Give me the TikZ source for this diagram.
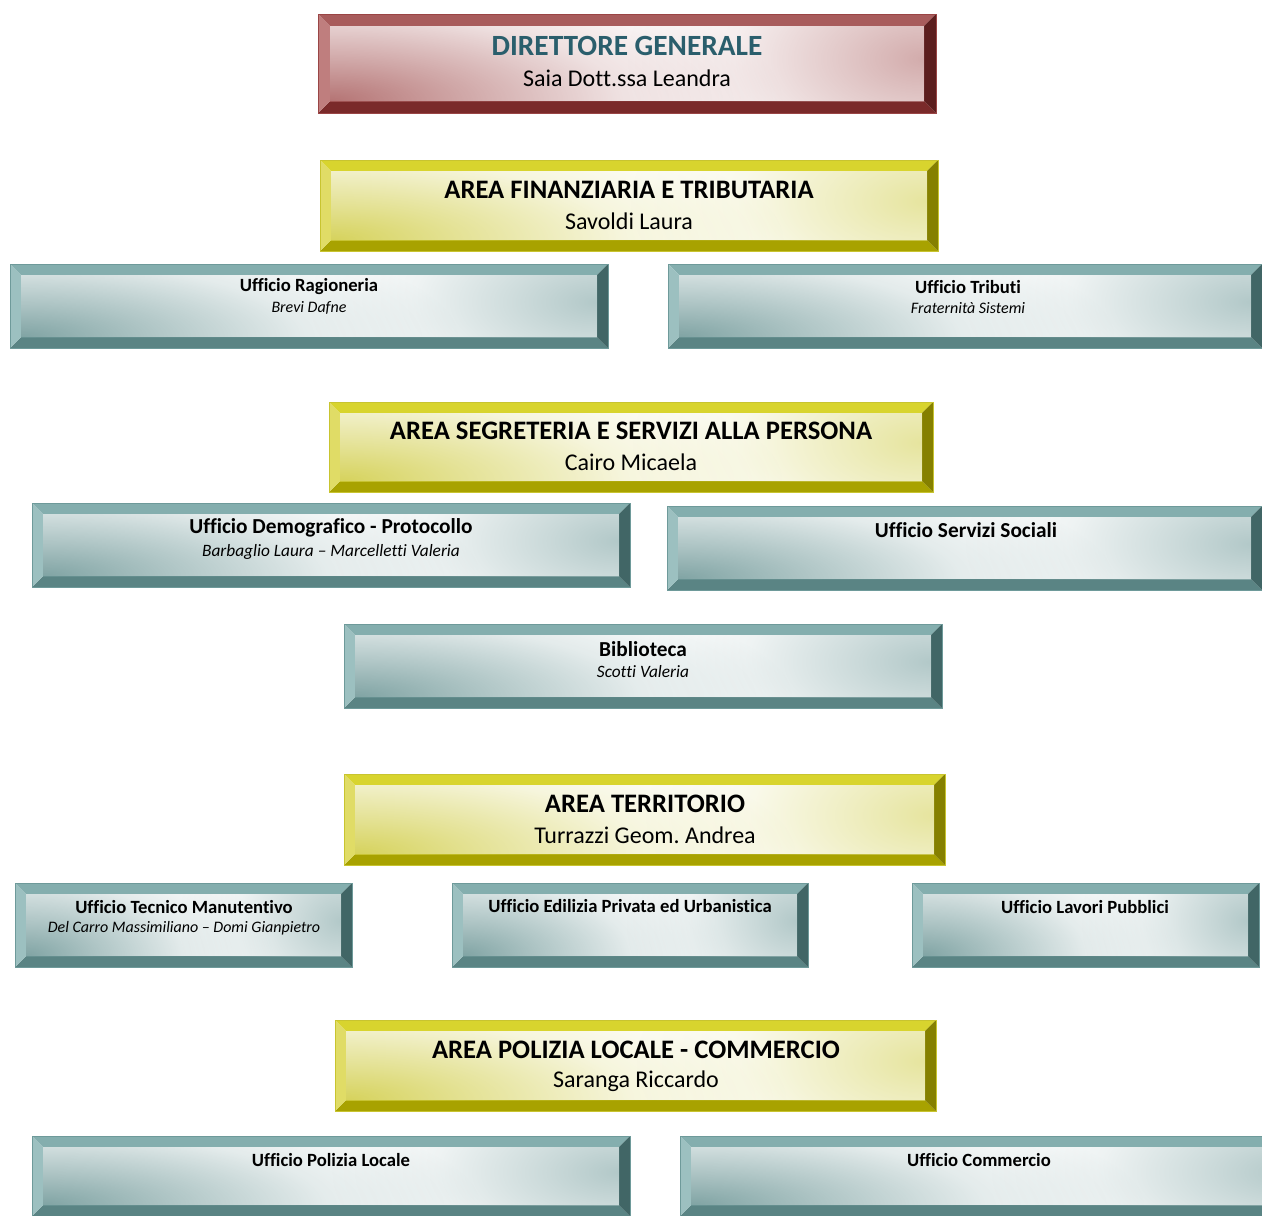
\documentclass[tikz,border=0pt]{standalone}
\usepackage{fontspec}
\setmainfont{Carlito}[Ligatures={NoCommon,NoContextual}]
\usetikzlibrary{calc,fadings}
\frenchspacing

% bevel palettes
\definecolor{redtop}{HTML}{A85C5C}
\definecolor{redleft}{HTML}{BF7E7E}
\definecolor{redright}{HTML}{5C1E1E}
\definecolor{redbot}{HTML}{7A2A2A}
\definecolor{rededge}{HTML}{9A4545}
\definecolor{redsheen}{HTML}{A85C5C}

\definecolor{yeltop}{HTML}{D8D42E}
\definecolor{yelleft}{HTML}{E0DC66}
\definecolor{yelright}{HTML}{858000}
\definecolor{yelbot}{HTML}{A8A200}
\definecolor{yeledge}{HTML}{C8C430}
\definecolor{yelsheen}{HTML}{CFCB40}

\definecolor{teltop}{HTML}{84AEAE}
\definecolor{telleft}{HTML}{9CC0C0}
\definecolor{telright}{HTML}{416666}
\definecolor{telbot}{HTML}{5A8484}
\definecolor{teledge}{HTML}{6E9A9A}
\definecolor{telsheen}{HTML}{6A9494}

\definecolor{headblue}{HTML}{2A5E6C}

% soft round spot (steep fall-off) for the shaded corners of the plate faces
\pgfdeclareradialshading{spotmask}{\pgfpointorigin}{color(0bp)=(white!85!black); color(7bp)=(white!55!black); color(16bp)=(white!18!black); color(25bp)=(black); color(50bp)=(black)}
\pgfdeclarefading{softspot}{\pgfuseshading{spotmask}}

% framed bevel plate: palette, x1, y1, x2, y2, bevel width
\newcommand\bevelplate[6]{%
  \fill[#1top] (#2,#3) -- (#4,#3) -- ({#4-#6},{#3+#6}) -- ({#2+#6},{#3+#6}) -- cycle;
  \fill[#1bot] (#2,#5) -- (#4,#5) -- ({#4-#6},{#5-#6}) -- ({#2+#6},{#5-#6}) -- cycle;
  \fill[#1left] (#2,#3) -- ({#2+#6},{#3+#6}) -- ({#2+#6},{#5-#6}) -- (#2,#5) -- cycle;
  \fill[#1right] (#4,#3) -- ({#4-#6},{#3+#6}) -- ({#4-#6},{#5-#6}) -- (#4,#5) -- cycle;
  \begin{scope}
    \clip ({#2+#6},{#3+#6}) rectangle ({#4-#6},{#5-#6});
    \fill[white] ({#2+#6},{#3+#6}) rectangle ({#4-#6},{#5-#6});
    % lower left shadow
    \fill[#1sheen, path fading=softspot]
      ({#2+#6},{#5-#6}) ellipse [x radius={(#4-#2)*0.55pt}, y radius={(#5-#3)*1.05pt}];
    % right hand shadow
    \fill[#1sheen!60!white, path fading=softspot]
      ({#4-#6},{#3+0.45*(#5-#3)}) ellipse [x radius={(#4-#2)*0.36pt}, y radius={(#5-#3)*1.2pt}];
  \end{scope}
  \draw[#1edge, line width=0.6pt] (#2,#3) rectangle (#4,#5);
}

\tikzset{
  headline/.style={font=\fontsize{22}{24}\selectfont\bfseries, text=headblue, inner sep=0pt},
  arealine/.style={font=\fontsize{20}{22}\selectfont\bfseries, inner sep=0pt},
  headname/.style={font=\fontsize{18}{20}\selectfont, inner sep=0pt},
  officeline/.style={font=\fontsize{14}{16}\selectfont\bfseries, inner sep=0pt},
  officename/.style={font=\fontsize{12}{14}\selectfont\itshape, inner sep=0pt},
  bigoffice/.style={font=\fontsize{16}{18}\selectfont\bfseries, inner sep=0pt},
  bigname/.style={font=\fontsize{13}{15}\selectfont\itshape, inner sep=0pt},
}

\begin{document}
\begin{tikzpicture}[x=0.75pt, y=-0.75pt]
  \useasboundingbox (0,0) rectangle (1262,1215);
  \clip (0,0) rectangle (1262,1215);

  % director
  \bevelplate{red}{318}{14}{936}{113}{12}
  \node[headline] (dg) at (627,46) {DIRETTORE GENERALE};
  \node[headname] (dgname) at (627,78) {Saia Dott.ssa Leandra};

  % financial area
  \bevelplate{yel}{320}{160}{938}{251}{11}
  \node[arealine] (fin) at (629,190) {AREA FINANZIARIA E TRIBUTARIA};
  \node[headname] (finname) at (629,221) {Savoldi Laura};

  \bevelplate{tel}{10}{264}{608}{348}{11}
  \node[officeline] (rag) at (309,287) {Ufficio Ragioneria};
  \node[officename] (ragname) at (309,308) {Brevi Dafne};

  \bevelplate{tel}{668}{264}{1262}{348}{11}
  \node[officeline] (trib) at (968,287) {Ufficio Tributi};
  \node[officename] (tribname) at (968,308) {Fraternità Sistemi};

  % secretariat area
  \bevelplate{yel}{329}{402}{933}{492}{11}
  \node[arealine] (seg) at (631,431) {AREA SEGRETERIA E SERVIZI ALLA PERSONA};
  \node[headname] (segname) at (631,462) {Cairo Micaela};

  \bevelplate{tel}{32}{503}{630}{587}{11}
  \node[bigoffice] (demo) at (331,528) {Ufficio Demografico - Protocollo};
  \node[bigname] (demoname) at (331,552) {Barbaglio Laura – Marcelletti Valeria};

  \bevelplate{tel}{667}{506}{1262}{590}{11}
  \node[bigoffice] (soc) at (966,530) {Ufficio Servizi Sociali};

  \bevelplate{tel}{344}{624}{942}{708}{11}
  \node[bigoffice] (bib) at (643,649) {Biblioteca};
  \node[bigname] (bibname) at (643,672) {Scotti Valeria};

  % territory area
  \bevelplate{yel}{344}{774}{945}{865}{11}
  \node[arealine] (terr) at (645,804) {AREA TERRITORIO};
  \node[headname] (terrname) at (645,835) {Turrazzi Geom. Andrea};

  \bevelplate{tel}{15}{883}{352}{967}{11}
  \node[officeline] (tec) at (184,907) {Ufficio Tecnico Manutentivo};
  \node[officename] (tecname) at (184,928) {Del Carro Massimiliano – Domi Gianpietro};

  \bevelplate{tel}{452}{883}{808}{967}{11}
  \node[officeline] (edil) at (630,906) {Ufficio Edilizia Privata ed Urbanistica};

  \bevelplate{tel}{912}{883}{1259}{967}{11}
  \node[officeline] (lav) at (1085,907) {Ufficio Lavori Pubblici};

  % local police area
  \bevelplate{yel}{335}{1020}{936}{1111}{11}
  \node[arealine] (pol) at (636,1050) {AREA POLIZIA LOCALE - COMMERCIO};
  \node[headname] (polname) at (636,1081) {Saranga Riccardo};

  \bevelplate{tel}{32}{1136}{630}{1216}{11}
  \node[officeline] (pl) at (331,1160) {Ufficio Polizia Locale};

  \bevelplate{tel}{680}{1136}{1300}{1216}{11}
  \node[officeline] (comm) at (979,1160) {Ufficio Commercio};
\end{tikzpicture}
\end{document}
